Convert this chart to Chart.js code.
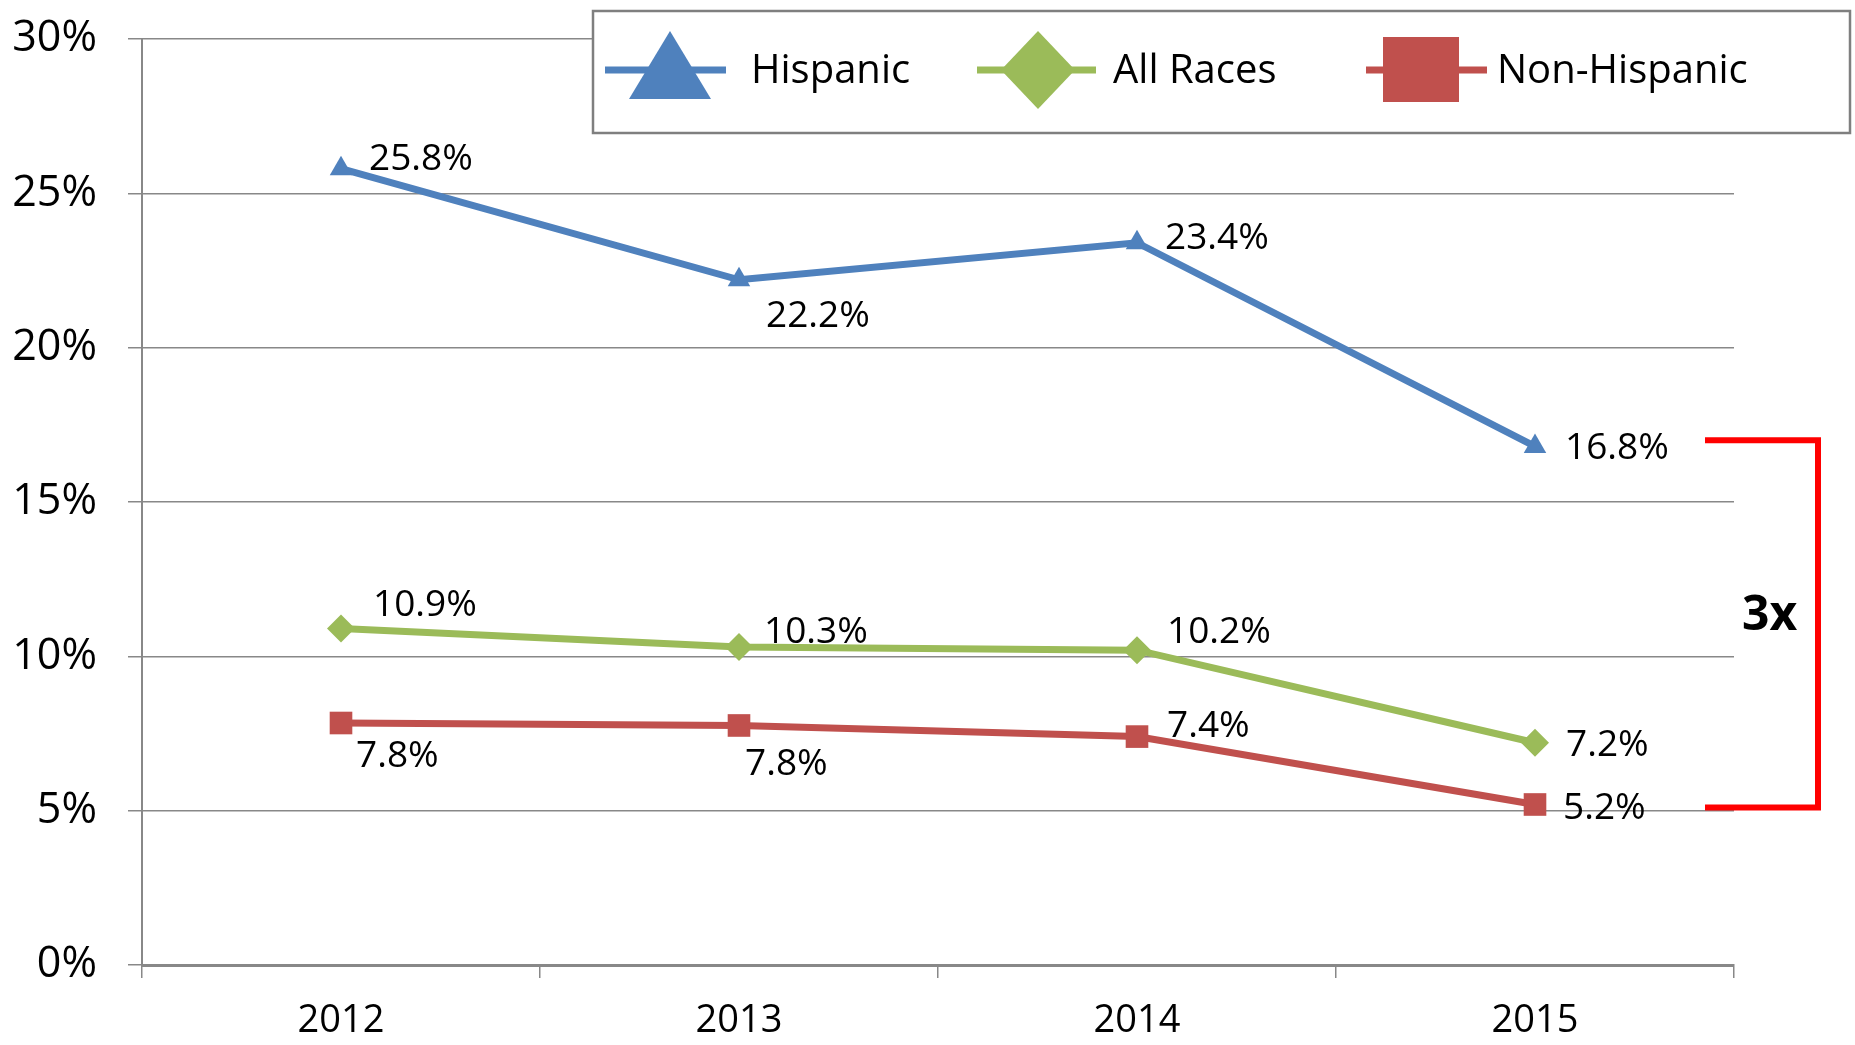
<!DOCTYPE html>
<html>
<head>
<meta charset="utf-8">
<script src="https://cdn.jsdelivr.net/npm/chart.js@4.4.1/dist/chart.umd.min.js"></script>
<style>
  html, body { margin: 0; padding: 0; background: #fff; }
  canvas { display: block; }
</style>
</head>
<body>
<canvas id="chart" width="1855" height="1045"></canvas>
<script>
// datos del grafico
const years = ['2012', '2013', '2014', '2015'];
const hispanic = [25.8, 22.2, 23.4, 16.8];
const allRaces = [10.9, 10.3, 10.2, 7.2];
const nonHispanic = [7.84, 7.76, 7.4, 5.2];
const yTicks = [0, 5, 10, 15, 20, 25, 30];
const bracketRange = [17.0, 5.1];   // la llave roja "3x"
const bracketText = '3x';

const FONT = "'Open Sans', 'Noto Sans', sans-serif";
const GRID = '#888888';

// desplazamiento de cada etiqueta respecto a su punto (dx, dy del centro del texto)
const labelOffsets = [
    [[28, -12], [27, 34], [28, -7], [30, 0]],
    [[32, -26], [25, -17], [30, -20], [31, 0]],
    [[15, 31], [6, 37], [30, -13], [28, 2]]
];

// etiquetas de datos
const dataLabels = {
    id: 'dataLabels',
    afterDatasetsDraw(chart) {
        const ctx = chart.ctx;
        ctx.save();
        ctx.font = '37px ' + FONT;
        ctx.fillStyle = '#000';
        ctx.textAlign = 'left';
        ctx.textBaseline = 'alphabetic';
        chart.data.datasets.forEach((ds, i) => {
            chart.getDatasetMeta(i).data.forEach((pt, j) => {
                const off = labelOffsets[i][j];
                ctx.fillText(ds.data[j].toFixed(1) + '%', pt.x + off[0], pt.y + off[1] + 13);
            });
        });
        ctx.restore();
    }
};

// leyenda dibujada a mano (linea + marcador grande)
const legendBox = { x: 593, y: 11, w: 1257, h: 122 };
const legendItems = [
    { text: 'Hispanic', lineX: [12, 133], markX: 77, textX: 158, shape: 'triangle' },
    { text: 'All Races', lineX: [384, 503], markX: 445, textX: 520, shape: 'diamond' },
    { text: 'Non-Hispanic', lineX: [773, 894], markX: 828, textX: 904, shape: 'square' }
];

const customLegend = {
    id: 'customLegend',
    afterDraw(chart) {
        const ctx = chart.ctx;
        const b = legendBox;
        ctx.save();
        ctx.fillStyle = '#fff';
        ctx.fillRect(b.x, b.y, b.w, b.h);
        ctx.strokeStyle = '#7f7f7f';
        ctx.lineWidth = 2.5;
        ctx.strokeRect(b.x, b.y, b.w, b.h);

        const cy = 70;
        legendItems.forEach((it, i) => {
            const color = chart.data.datasets[i].borderColor;
            ctx.strokeStyle = color;
            ctx.fillStyle = color;
            ctx.lineWidth = 7;
            ctx.beginPath();
            ctx.moveTo(b.x + it.lineX[0], cy);
            ctx.lineTo(b.x + it.lineX[1], cy);
            ctx.stroke();

            const mx = b.x + it.markX;
            ctx.beginPath();
            if (it.shape === 'triangle') {
                ctx.moveTo(mx, 31);
                ctx.lineTo(mx + 41, 99);
                ctx.lineTo(mx - 41, 99);
            } else if (it.shape === 'diamond') {
                ctx.moveTo(mx, 31);
                ctx.lineTo(mx + 37, cy);
                ctx.lineTo(mx, 109);
                ctx.lineTo(mx - 37, cy);
            } else {
                ctx.rect(mx - 38, 37, 76, 65);
            }
            ctx.closePath();
            ctx.fill();

            ctx.fillStyle = '#000';
            ctx.font = '40px ' + FONT;
            ctx.textBaseline = 'alphabetic';
            ctx.fillText(it.text, b.x + it.textX, 83);
        });
        ctx.restore();
    }
};

// llave roja con "3x"
const bracket = {
    id: 'bracket',
    afterDraw(chart) {
        const ctx = chart.ctx;
        const y = chart.scales.y;
        const right = chart.chartArea.right;
        const y1 = y.getPixelForValue(bracketRange[0]);
        const y2 = y.getPixelForValue(bracketRange[1]);
        ctx.save();
        ctx.strokeStyle = '#ff0000';
        ctx.lineWidth = 6;
        ctx.lineJoin = 'miter';
        ctx.beginPath();
        ctx.moveTo(right - 29, y1);
        ctx.lineTo(right + 84, y1);
        ctx.lineTo(right + 84, y2);
        ctx.lineTo(right - 29, y2);
        ctx.stroke();

        ctx.fillStyle = '#000';
        ctx.font = 'bold 48px ' + FONT;
        ctx.textBaseline = 'alphabetic';
        ctx.fillText(bracketText, right + 8, (y1 + y2) / 2 + 6);
        ctx.restore();
    }
};

new Chart(document.getElementById('chart'), {
    type: 'line',
    data: {
        labels: years,
        datasets: [{
            label: 'Hispanic',
            data: hispanic,
            borderColor: '#4f81bd',
            backgroundColor: '#4f81bd',
            pointStyle: 'triangle',
            pointRadius: 13
        }, {
            label: 'All Races',
            data: allRaces,
            borderColor: '#9bbb59',
            backgroundColor: '#9bbb59',
            pointStyle: 'rectRot',
            pointRadius: 14
        }, {
            label: 'Non-Hispanic',
            data: nonHispanic,
            borderColor: '#c0504d',
            backgroundColor: '#c0504d',
            pointStyle: 'rect',
            pointRadius: 16
        }]
    },
    options: {
        responsive: false,
        animation: false,
        devicePixelRatio: 1,
        layout: { padding: { top: 39, right: 121, left: 0, bottom: 0 } },
        elements: {
            line: { borderWidth: 7, tension: 0, fill: false },
            point: { borderWidth: 0, hoverRadius: 16 }
        },
        plugins: {
            legend: { display: false },
            tooltip: { enabled: false }
        },
        scales: {
            x: {
                type: 'category',
                offset: true,
                grid: {
                    offset: true,
                    drawOnChartArea: false,
                    drawTicks: true,
                    tickLength: 13,
                    color: GRID,
                    lineWidth: 1.5
                },
                border: { color: GRID, width: 3 },
                ticks: {
                    color: '#000',
                    font: { family: FONT, size: 38 },
                    padding: 20,
                    maxRotation: 0
                },
                afterFit(scale) {
                    scale.height = 80;
                    scale.paddingLeft = 0;
                    scale.paddingRight = 0;
                }
            },
            y: {
                min: 0,
                max: 30,
                afterBuildTicks(scale) {
                    scale.ticks = yTicks.map(v => ({ value: v }));
                },
                grid: {
                    color: GRID,
                    lineWidth: 1.5,
                    tickLength: 14
                },
                border: { color: GRID, width: 2 },
                ticks: {
                    color: '#000',
                    font: { family: FONT, size: 43 },
                    padding: 31,
                    callback: v => v + '%'
                },
                afterFit(scale) {
                    scale.width = 142;
                    scale.paddingTop = 0;
                    scale.paddingBottom = 0;
                }
            }
        }
    },
    plugins: [dataLabels, customLegend, bracket]
});
</script>
</body>
</html>
